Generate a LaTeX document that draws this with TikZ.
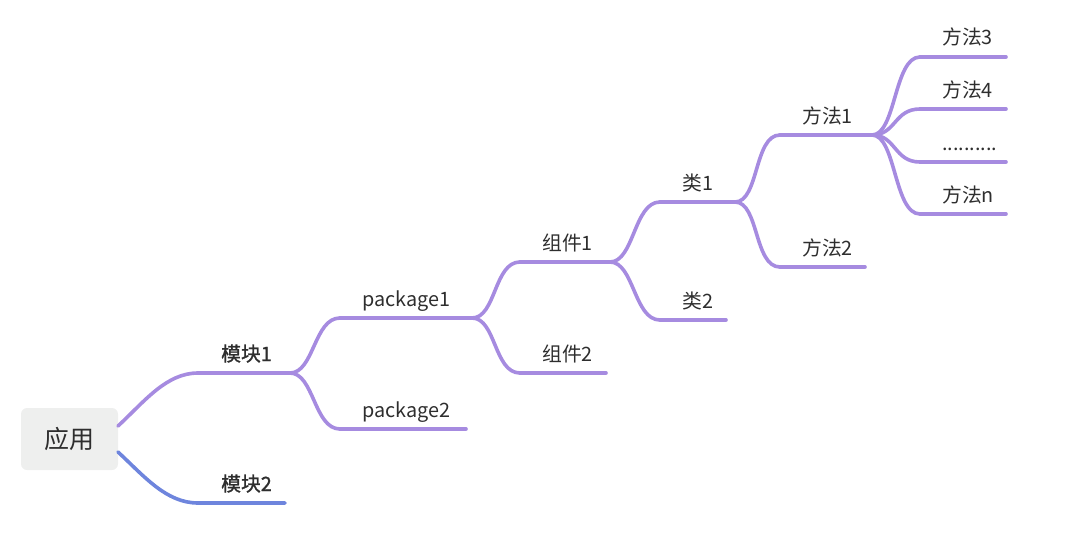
\documentclass[tikz,border=0pt]{standalone}
\usepackage{fontspec}
\setmainfont{Noto Sans CJK SC}
\newfontfamily\medfont{Noto Sans CJK SC}[FakeBold=1.2]
\definecolor{lav}{HTML}{A68BE0}
\definecolor{blu}{HTML}{6E85DD}
\definecolor{txt}{HTML}{2E2E2E}
\definecolor{rootgray}{HTML}{EEEFEE}
\tikzset{
  br/.style={line width=3.6pt, draw=lav, line cap=round},
  brblue/.style={br, draw=blu},
  lbl/.style={font=\fontsize{19.8}{22}\selectfont, text=txt, anchor=base west, inner sep=0pt},
  bold lbl/.style={lbl, font=\fontsize{19.8}{22}\selectfont\medfont},
  rootbox/.style={fill=rootgray, rounded corners=6pt, minimum width=97pt, minimum height=62pt,
    font=\fontsize{25}{28}\selectfont, text=txt, inner sep=0pt},
}
\newcommand{\sbranch}[3][br]{%
  \draw[#1] (#2) .. controls +(24,0) and +(-26,0) .. (#3);}
\begin{document}
\begin{tikzpicture}[x=1pt,y=-1pt]
\useasboundingbox (0,0) rectangle (1080,546);
% root
\node[rootbox] (root) at (69.5,439) {应用};
\coordinate (r1) at (118,426);
\coordinate (r2) at (118,452);
% level 1
\coordinate (m1s) at (198,373); \coordinate (m1e) at (290,373);
\coordinate (m2s) at (198,503); \coordinate (m2e) at (285,503);
% level 2
\coordinate (p1s) at (340,318); \coordinate (p1e) at (472,318);
\coordinate (p2s) at (340,429); \coordinate (p2e) at (466,429);
% level 3
\coordinate (c1s) at (520,262); \coordinate (c1e) at (610,262);
\coordinate (c2s) at (520,373); \coordinate (c2e) at (606,373);
% level 4
\coordinate (k1s) at (660,202); \coordinate (k1e) at (735,202);
\coordinate (k2s) at (660,320); \coordinate (k2e) at (726,320);
% level 5
\coordinate (f1s) at (780,135); \coordinate (f1e) at (872,135);
\coordinate (f2s) at (780,267); \coordinate (f2e) at (865,267);
% level 6
\coordinate (f3s) at (920,57);  \coordinate (f3e) at (1006,57);
\coordinate (f4s) at (920,109); \coordinate (f4e) at (1006,109);
\coordinate (fds) at (920,162); \coordinate (fde) at (1006,162);
\coordinate (fns) at (920,214); \coordinate (fne) at (1006,214);

% connectors
\draw[br] (r1) .. controls +(26,-24) and +(-32,0) .. (m1s) -- (m1e);
\draw[brblue] (r2) .. controls +(26,24) and +(-32,0) .. (m2s) -- (m2e);
\sbranch{m1e}{p1s} \draw[br] (p1s) -- (p1e);
\sbranch{m1e}{p2s} \draw[br] (p2s) -- (p2e);
\sbranch{p1e}{c1s} \draw[br] (c1s) -- (c1e);
\sbranch{p1e}{c2s} \draw[br] (c2s) -- (c2e);
\sbranch{c1e}{k1s} \draw[br] (k1s) -- (k1e);
\sbranch{c1e}{k2s} \draw[br] (k2s) -- (k2e);
\sbranch{k1e}{f1s} \draw[br] (f1s) -- (f1e);
\sbranch{k1e}{f2s} \draw[br] (f2s) -- (f2e);
\sbranch{f1e}{f3s} \draw[br] (f3s) -- (f3e);
\sbranch{f1e}{f4s} \draw[br] (f4s) -- (f4e);
\sbranch{f1e}{fds} \draw[br] (fds) -- (fde);
\sbranch{f1e}{fns} \draw[br] (fns) -- (fne);

% labels
\node[bold lbl] (lm1) at ([shift={(23,-12)}]m1s) {模块1};
\node[bold lbl] (lm2) at ([shift={(23,-12)}]m2s) {模块2};
\node[lbl] (lp1) at ([shift={(22,-12)}]p1s) {package1};
\node[lbl] (lp2) at ([shift={(22,-12)}]p2s) {package2};
\node[lbl] (lc1) at ([shift={(22,-12)}]c1s) {组件1};
\node[lbl] (lc2) at ([shift={(22,-12)}]c2s) {组件2};
\node[lbl] (lk1) at ([shift={(22,-12)}]k1s) {类1};
\node[lbl] (lk2) at ([shift={(22,-12)}]k2s) {类2};
\node[lbl] (lf1) at ([shift={(22,-12)}]f1s) {方法1};
\node[lbl] (lf2) at ([shift={(22,-12)}]f2s) {方法2};
\node[lbl] (lf3) at ([shift={(22,-12)}]f3s) {方法3};
\node[lbl] (lf4) at ([shift={(22,-12)}]f4s) {方法4};
\node[lbl] (lfd) at ([shift={(22,-12)}]fds) {..........};
\node[lbl] (lfn) at ([shift={(22,-12)}]fns) {方法n};
\end{tikzpicture}
\end{document}
